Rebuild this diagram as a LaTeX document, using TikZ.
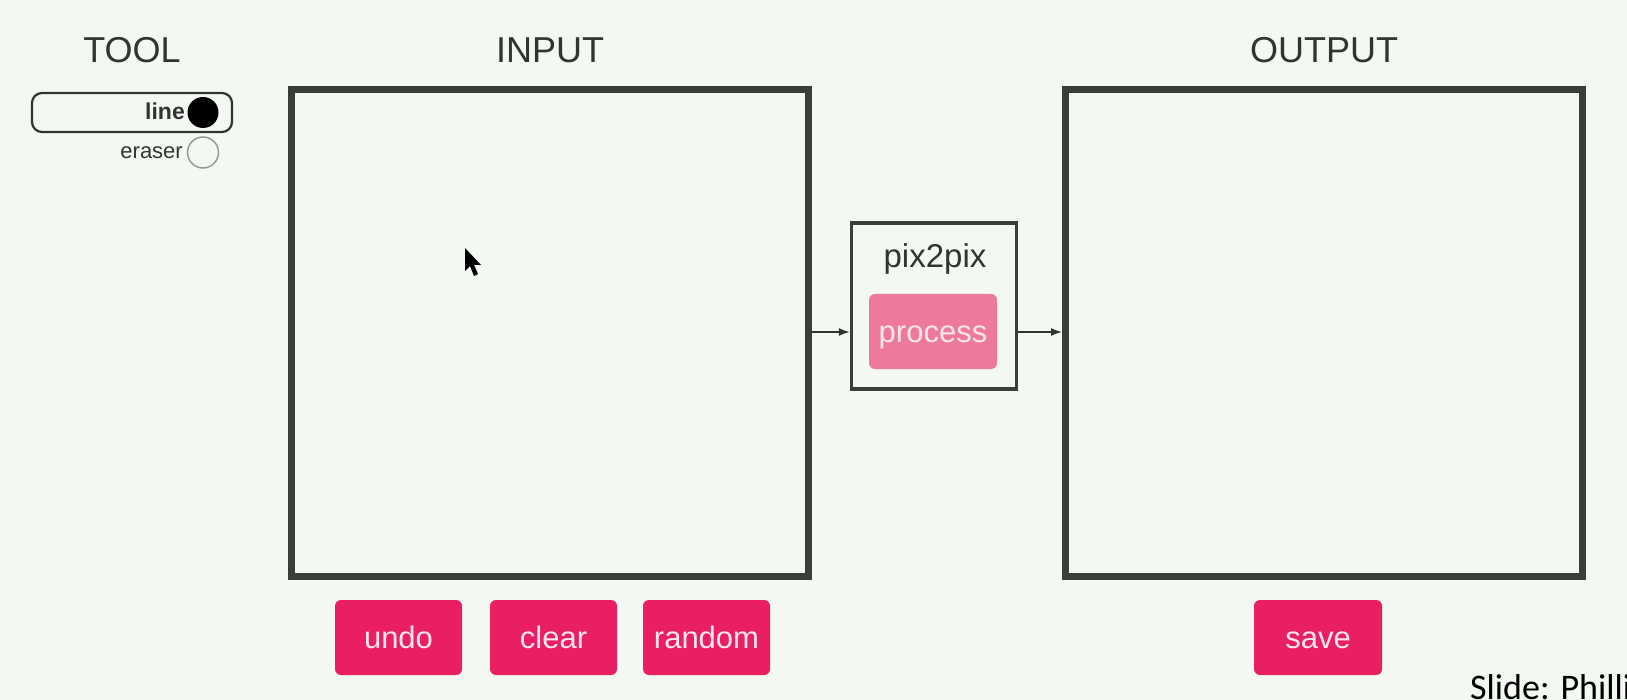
\documentclass[tikz,border=0pt]{standalone}
\usepackage{fontspec}
\setmainfont{Liberation Sans}
\newfontfamily\slidefont{Carlito}
\usetikzlibrary{arrows.meta}
\definecolor{bg}{HTML}{F4F8F3}
\definecolor{frame}{HTML}{3A3E3A}
\definecolor{btn}{HTML}{E91E63}
\definecolor{btnlight}{HTML}{EE7A9B}
\definecolor{btntext}{HTML}{FCE6EE}
\definecolor{ink}{HTML}{333333}
\begin{document}
\begin{tikzpicture}[x=1pt,y=-1pt,
  heading/.style={anchor=base, text=ink, inner sep=0, font=\fontsize{36}{40}\selectfont},
  canvas/.style={draw=frame, line width=7pt, inner sep=0},
  button/.style={fill=btn, rounded corners=6pt, minimum width=127pt, minimum height=75pt,
                 inner sep=0, text height=22pt, text depth=0pt,
                 text=btntext, font=\fontsize{31}{34}\selectfont},
  flow/.style={draw=ink, line width=1.5pt, -{Latex[length=11pt,width=8pt]}},
  toollabel/.style={anchor=base east, inner sep=0, text=ink}
]
% page and background
\useasboundingbox (0,0) rectangle (1627,700);
\clip (0,0) rectangle (1627,700);
\fill[bg] (0,0) rectangle (1627,700);

% headings
\node[heading] (toolhead) at (132,63) {TOOL};
\node[heading] (inhead)   at (550,63) {INPUT};
\node[heading] (outhead)  at (1324,63) {OUTPUT};

% tool selector
\draw[ink, line width=2.2pt, rounded corners=10pt] (32,93) rectangle (232,132);
\node[toollabel, font=\bfseries\fontsize{23}{26}\selectfont] (linelbl) at (185,120) {line};
\node[circle, fill=black, minimum size=31pt, inner sep=0] (linedot) at (203,112.5) {};
\node[toollabel, font=\fontsize{22}{26}\selectfont] (eraserlbl) at (183,159) {eraser};
\node[circle, draw=gray!80, line width=1.5pt, minimum size=31pt, inner sep=0] (eraserdot) at (203,152.5) {};

% drawing canvases
\node[canvas, minimum width=517.5pt, minimum height=487pt] (inbox) at (549.75,333) {};
\node[canvas, minimum width=516.5pt, minimum height=486.5pt] (outbox) at (1323.75,332.75) {};

% model block
\node[draw=frame, line width=3.5pt, minimum width=165pt, minimum height=166pt, inner sep=0] (pix) at (934,306) {};
\node[anchor=base, inner sep=0, text=ink, font=\fontsize{33}{36}\selectfont] (pixlbl) at (935,268) {pix2pix};
\node[button, fill=btnlight, minimum width=128pt] (process) at (933,331.5) {process};

% data flow
\draw[flow] (inbox.east |- 0,332) -- (pix.west |- 0,332);
\draw[flow] (pix.east |- 0,332) -- (outbox.west |- 0,332);

% buttons
\node[button] (undo)   at (398.5,637.5) {undo};
\node[button] (clear)  at (553.5,637.5) {clear};
\node[button] (random) at (706.5,637.5) {random};
\node[button, minimum width=128pt] (save) at (1318,637.5) {save};

% mouse pointer
\fill[black] (465,248) -- (465,271) -- (470,266) -- (474,276) -- (478,274) -- (474,265) -- (481,265) -- cycle;

% credit
\node[anchor=base west, inner sep=0, text=black, font=\slidefont\fontsize{36}{40}\selectfont] (credit) at (1470,699) {Slide: Philli};
\end{tikzpicture}
\end{document}
